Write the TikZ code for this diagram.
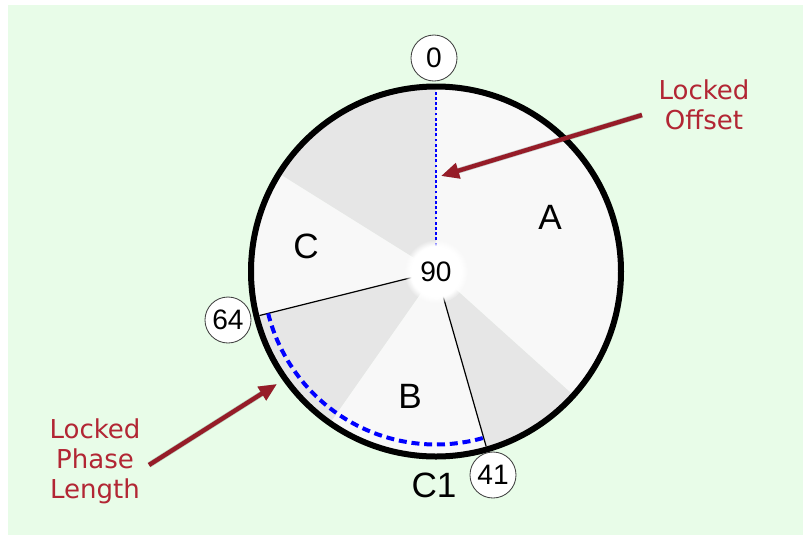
\documentclass[tikz,border=0pt]{standalone}
\usepackage{fontspec}
\setmainfont{Liberation Sans}
\newfontfamily\notefont{DejaVu Sans}
\usepackage{tikz}
\usetikzlibrary{arrows.meta, fadings}

\definecolor{bggreen}{RGB}{232,252,232}
\definecolor{lightseg}{RGB}{248,248,248}
\definecolor{darkseg}{RGB}{230,230,230}
\definecolor{notered}{RGB}{178,38,52}
\definecolor{arrowred}{RGB}{150,28,40}

\tikzset{
  tick/.style={circle, draw=black!75, fill=white, line width=0.6pt, minimum size=1.15cm, inner sep=0pt, font=\fontsize{20}{22}\selectfont},
  phase/.style={font=\fontsize{25}{28}\selectfont},
  note/.style={text=notered, align=center, font=\notefont\fontsize{18.5}{21.3}\selectfont},
  callout/.style={->, draw=arrowred, line width=0.11cm},
  callout shadow/.style={->, draw=black, opacity=0.2, line width=0.14cm, shift={(2,3)}}
}

\begin{document}
\begin{tikzpicture}[x=0.025cm, y=-0.025cm, >={Triangle[length=0.45cm, width=0.38cm]}]
\useasboundingbox (0,0) rectangle (803,535);
\fill[bggreen] (8,5) rectangle (803,535);

\coordinate (O) at (436,271.5);
% phase wedges, light part then clearance part
\foreach \a/\b/\c in {-90/42/lightseg, 42/74/darkseg, 74/125/lightseg, 125/166/darkseg, 166/212/lightseg, 212/270/darkseg}
  \fill[\c] (O) -- ++(\a:185) arc[start angle=\a, end angle=\b, radius=185] -- cycle;

\draw[line width=0.03cm] (O) -- ++(166:182);
\draw[line width=0.03cm] (O) -- ++(74:182);
\draw[blue, line width=0.07cm, dash pattern=on 0.07cm off 0.06cm] (O) -- ++(-90:182);
\draw[blue, line width=0.1cm, dash pattern=on 0.2cm off 0.12cm] (O) ++(166:173) arc[start angle=166, end angle=74, radius=173];

\fill[white, path fading=circle with fuzzy edge 20 percent] (O) circle (32);
\draw[line width=0.15cm] (O) circle (185);

\node[font=\fontsize{20}{22}\selectfont] (cyc) at (O) {90};
\node[tick] (t0) at (434,58) {0};
\node[tick] (t64) at (228,320) {64};
\node[tick] (t41) at (493,475) {41};

\node[phase] (pa) at (550,217) {A};
\node[phase] (pb) at (410,396) {B};
\node[phase] (pc) at (306,246) {C};
\node[phase] (c1) at (434,485) {C1};

\node[note] (offtxt) at (704,105) {Locked\\Offset};
\node[note] (lentxt) at (95,461) {Locked\\Phase\\Length};

\coordinate (offtail) at (642,115);
\coordinate (offhead) at (441,176);
\coordinate (lentail) at (149,465);
\coordinate (lenhead) at (277,384);
\draw[callout shadow] (offtail) -- (offhead);
\draw[callout shadow] (lentail) -- (lenhead);
\draw[callout] (offtail) -- (offhead);
\draw[callout] (lentail) -- (lenhead);
\end{tikzpicture}
\end{document}
